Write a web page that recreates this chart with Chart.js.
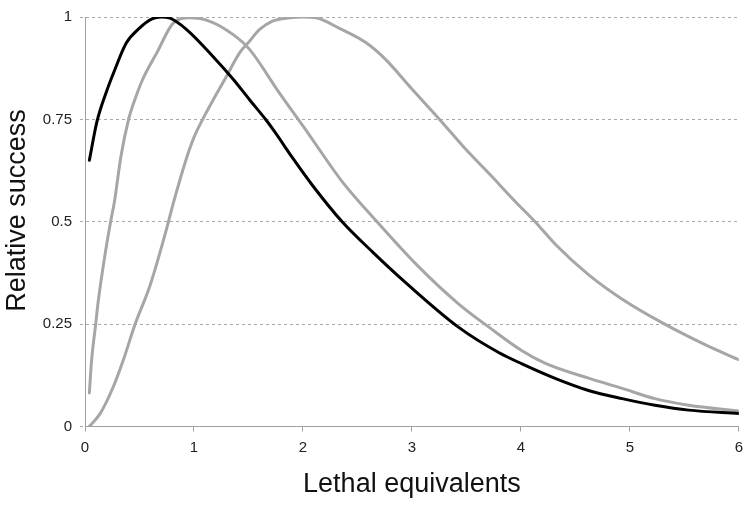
<!DOCTYPE html>
<html>
<head>
<meta charset="utf-8">
<script src="https://cdn.jsdelivr.net/npm/chart.js@4/dist/chart.umd.min.js"></script>
<style>
  html, body { margin: 0; padding: 0; background: #ffffff; }
  #wrap { width: 750px; height: 505px; }
</style>
</head>
<body>
<div id="wrap"><canvas id="c" width="750" height="505"></canvas></div>
<script>
// Axis ticks
const xTicks = [0, 1, 2, 3, 4, 5, 6];
const yTicks = [0, 0.25, 0.5, 0.75, 1];

// Black curve (peak near 0.7)
const blackX = [0.04, 0.11, 0.2, 0.26, 0.38, 0.5, 0.62, 0.7, 0.78, 0.93, 1.17, 1.36, 1.51, 1.66, 1.74, 1.91, 2.09, 2.36, 2.64, 2.94, 3.43, 3.8, 4.01, 4.32, 4.62, 4.93, 5.23, 5.54, 6.0];
const blackY = [0.65, 0.745, 0.82, 0.862, 0.937, 0.973, 0.996, 1.0, 0.997, 0.97, 0.905, 0.848, 0.798, 0.749, 0.72, 0.654, 0.588, 0.50, 0.426, 0.352, 0.242, 0.18, 0.153, 0.117, 0.088, 0.068, 0.052, 0.04, 0.032];

// Grey curve (peak near 1)
const grey1X = [0.04, 0.06, 0.098, 0.122, 0.19, 0.235, 0.27, 0.33, 0.4, 0.46, 0.53, 0.66, 0.81, 0.96, 1.14, 1.36, 1.51, 1.78, 2.04, 2.36, 2.68, 3.04, 3.43, 3.71, 4.01, 4.22, 4.62, 4.93, 5.23, 5.54, 6.0];
const grey1Y = [0.082, 0.16, 0.25, 0.307, 0.43, 0.50, 0.549, 0.66, 0.75, 0.80, 0.848, 0.913, 0.985, 0.998, 0.99, 0.957, 0.921, 0.816, 0.719, 0.598, 0.50, 0.396, 0.299, 0.242, 0.185, 0.155, 0.118, 0.093, 0.068, 0.052, 0.038];

// Grey curve (peak near 2)
const grey2X = [0.04, 0.14, 0.26, 0.35, 0.46, 0.6, 0.75, 0.81, 0.93, 1.0, 1.08, 1.3, 1.42, 1.51, 1.6, 1.72, 1.88, 2.0, 2.12, 2.33, 2.58, 2.76, 3.0, 3.25, 3.49, 3.71, 3.95, 4.13, 4.32, 4.62, 4.93, 5.32, 5.69, 6.0];
const grey2Y = [0.0, 0.032, 0.097, 0.161, 0.25, 0.347, 0.484, 0.545, 0.654, 0.706, 0.75, 0.856, 0.913, 0.941, 0.969, 0.99, 0.998, 1.0, 0.998, 0.973, 0.937, 0.896, 0.824, 0.751, 0.678, 0.617, 0.549, 0.50, 0.444, 0.371, 0.311, 0.25, 0.20, 0.163];

const pts = (xs, ys) => xs.map((x, i) => ({x: x, y: ys[i]}));

const FONT = "'Liberation Sans', Arial, sans-serif";
const GREY = '#a6a6a6';
const AXIS = '#a0a0a0';

new Chart(document.getElementById('c'), {
  type: 'line',
  data: {
    datasets: [
      { data: pts(blackX, blackY), borderColor: '#000000', borderWidth: 3, order: 0 },
      { data: pts(grey1X, grey1Y), borderColor: GREY, borderWidth: 3, order: 1 },
      { data: pts(grey2X, grey2Y), borderColor: GREY, borderWidth: 3, order: 2 }
    ]
  },
  options: {
    responsive: false,
    animation: false,
    events: [],
    layout: { padding: { left: 0, top: 14, right: 9, bottom: 0 } },
    elements: {
      point: { radius: 0 },
      line: { cubicInterpolationMode: 'monotone', fill: false, borderCapStyle: 'round', borderJoinStyle: 'round' }
    },
    plugins: { legend: { display: false }, tooltip: { enabled: false } },
    scales: {
      x: {
        type: 'linear',
        min: 0, max: 6,
        afterFit: (s) => { s.height = 78.5; },
        afterBuildTicks: (s) => { s.ticks = xTicks.map(v => ({value: v})); },
        grid: { drawOnChartArea: false, drawTicks: true, tickLength: 5, color: AXIS, tickColor: AXIS },
        border: { display: true, color: AXIS, width: 1 },
        ticks: { font: { family: FONT, size: 15 }, color: '#222222', padding: 7, maxRotation: 0,
                 callback: (v) => String(v) },
        title: { display: true, text: 'Lethal equivalents', font: { family: FONT, size: 27 }, color: '#111111', padding: { top: 0, bottom: 4 } }
      },
      y: {
        type: 'linear',
        min: 0, max: 1,
        afterFit: (s) => { s.width = 85; },
        afterBuildTicks: (s) => { s.ticks = yTicks.map(v => ({value: v})); },
        grid: { drawOnChartArea: true, drawTicks: true, tickLength: 5, color: '#a8a8a8', tickColor: '#a8a8a8', tickBorderDash: [3, 3] },
        border: { display: true, color: AXIS, width: 1, dash: [3, 3] },
        ticks: { font: { family: FONT, size: 15 }, color: '#222222', padding: 8,
                 callback: (v) => String(v) },
        title: { display: true, text: '\u00A0\u00A0\u00A0Relative success', font: { family: FONT, size: 27 }, color: '#111111', padding: { top: 1, bottom: 0 } }
      }
    }
  }
});
</script>
</body>
</html>
